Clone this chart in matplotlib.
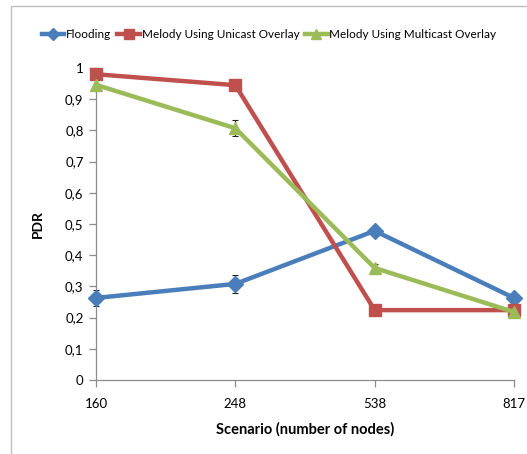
import matplotlib
matplotlib.use("Agg")
import matplotlib.pyplot as plt
from matplotlib.patches import Rectangle

scenarios = ["160", "248", "538", "817"]
flooding = [0.263, 0.308, 0.478, 0.263]
flooding_err = [0.026, 0.028, 0.014, 0.0]
unicast = [0.980, 0.945, 0.224, 0.224]
unicast_err = [0.0, 0.0, 0.0, 0.0]
multicast = [0.946, 0.807, 0.359, 0.218]
multicast_err = [0.0, 0.025, 0.014, 0.0]
yticks = [0, 0.1, 0.2, 0.3, 0.4, 0.5, 0.6, 0.7, 0.8, 0.9, 1.0]
ytick_labels = ["0", "0,1", "0,2", "0,3", "0,4", "0,5", "0,6", "0,7", "0,8", "0,9", "1"]

plt.rcParams['font.family'] = ['Lato', 'DejaVu Sans']

W, H = 527, 454
fig = plt.figure(figsize=(W/100, H/100), dpi=100)
fig.patches.append(Rectangle((11/W, -0.1), 1.2, (H-6)/H + 0.1, transform=fig.transFigure,
                             fill=False, edgecolor='#bfbfbf', linewidth=1.0))

ax = fig.add_axes([96/W, 1-380/H, (514-96)/W, (380-68)/H])
x = list(range(len(scenarios)))

series = [
    ("Flooding", flooding, flooding_err, '#4a7ebb', 'D', 8),
    ("Melody Using Unicast Overlay", unicast, unicast_err, '#c0504d', 's', 9),
    ("Melody Using Multicast Overlay", multicast, multicast_err, '#9bbb59', '^', 9),
]
handles = []
for name, vals, errs, col, mk, ms in series:
    h, = ax.plot(x, vals, color=col, lw=3.2, marker=mk, markersize=ms,
                 markerfacecolor=col, markeredgecolor=col, label=name, zorder=3,
                 clip_on=False, solid_joinstyle='miter')
    ax.errorbar(x, vals, yerr=errs, fmt='none', ecolor='#222222', elinewidth=0.8,
                capsize=2.5, capthick=0.8, zorder=2.5, clip_on=False)
    handles.append(h)

ax.set_xlim(0, 3)
ax.set_ylim(0, 1)
ax.set_xticks(x)
ax.set_xticklabels(scenarios)
ax.set_yticks(yticks)
ax.set_yticklabels(ytick_labels)
for s in ['top', 'right']:
    ax.spines[s].set_visible(False)
for s in ['left', 'bottom']:
    ax.spines[s].set_color('#8c8c8c')
    ax.spines[s].set_linewidth(0.9)
ax.tick_params(axis='both', colors='#8c8c8c', labelcolor='black', labelsize=9.5,
               direction='out', length=5, width=0.9)
ax.tick_params(axis='x', pad=8)
ax.tick_params(axis='y', pad=4)

fig.text(305/W, 1-429/H, "Scenario (number of nodes)", ha='center', va='center',
         fontsize=10.5, fontweight='bold')
fig.text(38/W, 1-224/H, "PDR", ha='center', va='center', rotation=90,
         fontsize=10, fontweight='bold')

fig.legend(handles=handles, loc='center left', bbox_to_anchor=(42/W, 1-35/H),
           ncol=3, frameon=False, fontsize=8.5, handlelength=1.9, handletextpad=0.15,
           columnspacing=0.5, borderaxespad=0, borderpad=0, markerscale=0.75)

fig.savefig("out.png", dpi=100)
